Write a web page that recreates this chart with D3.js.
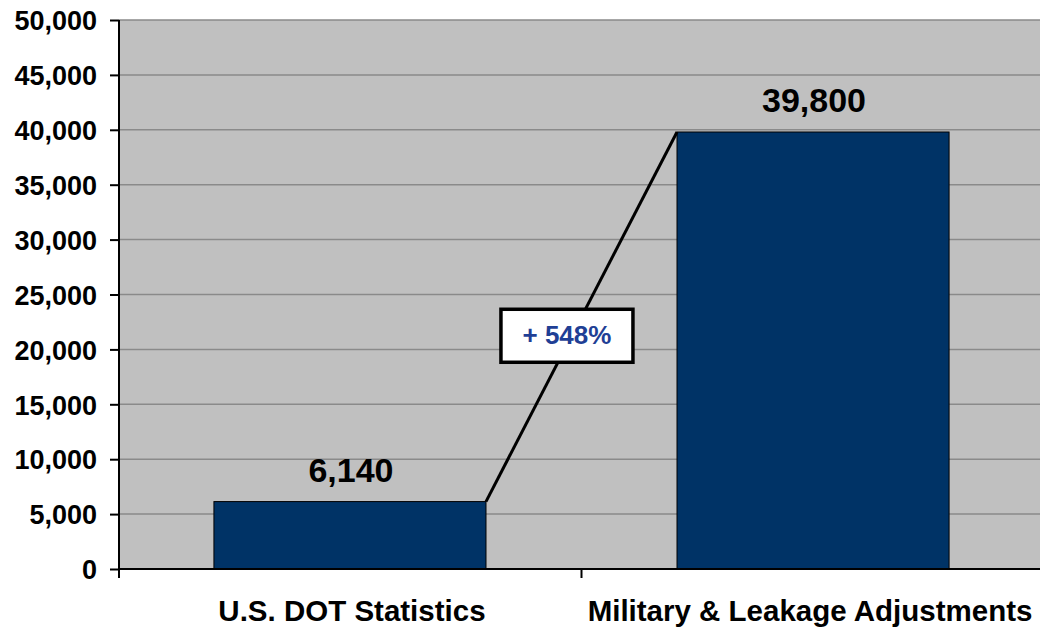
<!DOCTYPE html>
<html>
<head>
<meta charset="utf-8">
<script src="https://cdn.jsdelivr.net/npm/d3@7"></script>
<style>
  body { margin: 0; background: #fff; }
  svg { display: block; font-family: Arial, "Liberation Sans", sans-serif; font-weight: bold; }
</style>
</head>
<body>
<svg width="1040" height="629"></svg>
<script>
// Data
var categories = ["U.S. DOT Statistics", "Military & Leakage Adjustments"];
var values = [6140, 39800];
var yTicks = [0, 5000, 10000, 15000, 20000, 25000, 30000, 35000, 40000, 45000, 50000];

var svg = d3.select("svg"),
    width = +svg.attr("width"),
    height = +svg.attr("height");

// Plot area
var plotLeft = 119, plotRight = 1040, plotTop = 20, plotBottom = 569;

var x = d3.scaleBand()
    .domain(categories)
    .range([plotLeft, 1044])
    .paddingInner(0.4125)
    .paddingOuter(0.205);

var y = d3.scaleLinear()
    .domain([0, 50000])
    .range([plotBottom, plotTop]);

var fmt = d3.format(",");

// Background
svg.append("rect")
    .attr("x", plotLeft)
    .attr("y", plotTop)
    .attr("width", plotRight - plotLeft)
    .attr("height", plotBottom - plotTop)
    .attr("fill", "#c0c0c0");

// Gridlines
svg.append("g")
  .selectAll("line")
  .data(yTicks.filter(function(d) { return d > 0; }))
  .enter().append("line")
    .attr("x1", plotLeft)
    .attr("x2", plotRight)
    .attr("y1", function(d) { return y(d); })
    .attr("y2", function(d) { return y(d); })
    .attr("stroke", "#8a8a8a")
    .attr("stroke-width", 1.5);

// Bars
svg.append("g")
  .selectAll("rect")
  .data(values)
  .enter().append("rect")
    .attr("x", function(d, i) { return x(categories[i]); })
    .attr("y", function(d) { return y(d); })
    .attr("width", x.bandwidth())
    .attr("height", function(d) { return y(0) - y(d); })
    .attr("fill", "#003366")
    .attr("stroke", "#000")
    .attr("stroke-width", 1);

// Value labels
svg.append("g")
  .selectAll("text")
  .data(values)
  .enter().append("text")
    .attr("x", function(d, i) { return x(categories[i]) + x.bandwidth() / 2 + 1; })
    .attr("y", function(d) { return y(d) - 20; })
    .attr("text-anchor", "middle")
    .attr("font-size", 34)
    .attr("fill", "#000")
    .text(function(d) { return fmt(d); });

// Connector line between bar tops
var p1 = [x(categories[0]) + x.bandwidth(), y(values[0])],
    p2 = [x(categories[1]), y(values[1])];

svg.append("line")
    .attr("x1", p1[0]).attr("y1", p1[1])
    .attr("x2", p2[0]).attr("y2", p2[1])
    .attr("stroke", "#000")
    .attr("stroke-width", 3);

// Growth label box
var t = 0.45,
    cx = p1[0] + (p2[0] - p1[0]) * t - 5,
    cy = p1[1] + (p2[1] - p1[1]) * t;
var growth = Math.round((values[1] / values[0] - 1) * 100);

svg.append("rect")
    .attr("x", cx - 66)
    .attr("y", cy - 26)
    .attr("width", 132)
    .attr("height", 53)
    .attr("fill", "#fff")
    .attr("stroke", "#000")
    .attr("stroke-width", 3.5);

svg.append("text")
    .attr("x", cx)
    .attr("y", cy + 9)
    .attr("text-anchor", "middle")
    .attr("font-size", 26)
    .attr("fill", "#1f3f95")
    .text("+ " + growth + "%");

// Y axis
var yAxis = svg.append("g")
    .attr("transform", "translate(" + plotLeft + ",0)")
    .call(d3.axisLeft(y).tickValues(yTicks).tickFormat(fmt).tickSize(9).tickPadding(13));
yAxis.select(".domain").attr("stroke", "#000").attr("stroke-width", 2)
    .attr("d", "M0," + (plotBottom + 9) + "V" + plotTop);
yAxis.selectAll(".tick line").attr("stroke", "#000").attr("stroke-width", 2);
yAxis.selectAll(".tick text")
    .attr("font-size", 27)
    .attr("font-family", "Arial, 'Liberation Sans', sans-serif")
    .attr("font-weight", "bold")
    .attr("fill", "#000")
    .attr("dy", "0.36em");

// X axis
var xAxis = svg.append("g")
    .attr("transform", "translate(0," + plotBottom + ")");
xAxis.append("line")
    .attr("x1", plotLeft).attr("x2", plotRight)
    .attr("stroke", "#000").attr("stroke-width", 2);
xAxis.append("line")
    .attr("x1", x(categories[1]) - x.step() * x.paddingInner() / 2)
    .attr("x2", x(categories[1]) - x.step() * x.paddingInner() / 2)
    .attr("y1", 0).attr("y2", 9)
    .attr("stroke", "#000").attr("stroke-width", 2);
xAxis.selectAll("text")
  .data(categories)
  .enter().append("text")
    .attr("x", function(d, i) { return x(d) + x.bandwidth() / 2 + (i ? -3 : 2); })
    .attr("y", 52)
    .attr("text-anchor", "middle")
    .attr("font-size", 29.5)
    .attr("fill", "#000")
    .text(function(d) { return d; });
</script>
</body>
</html>
